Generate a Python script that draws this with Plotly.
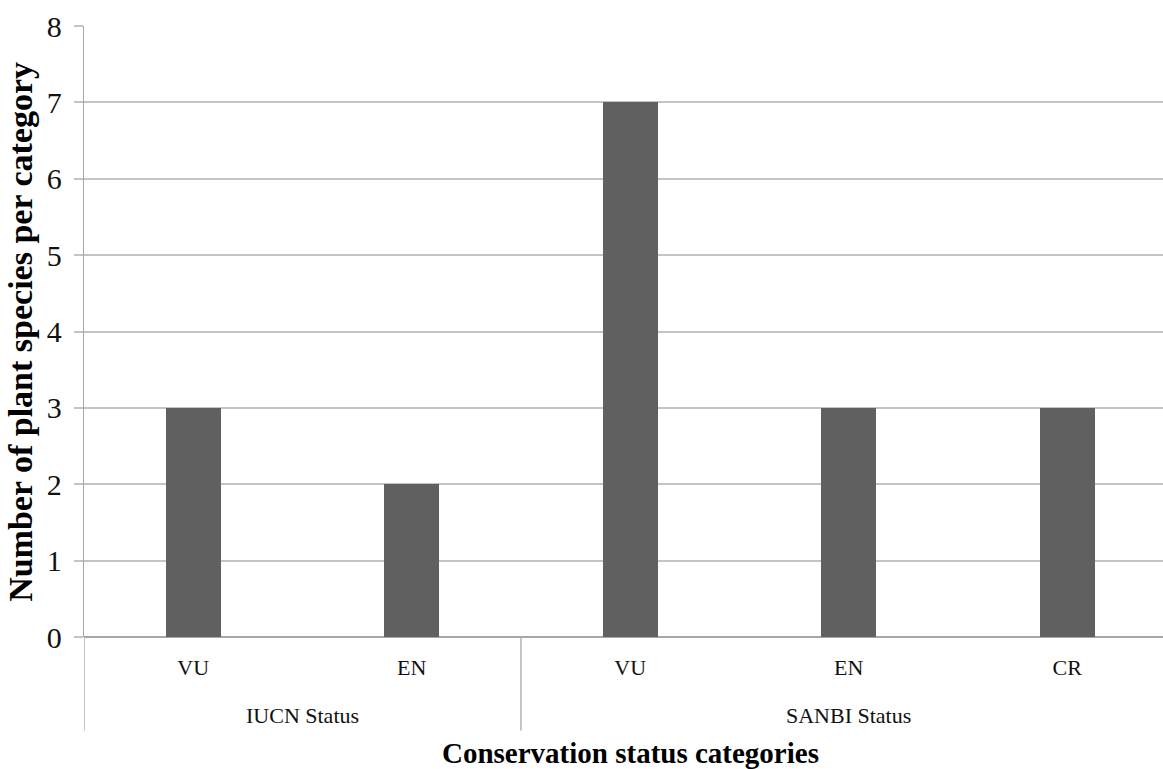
import plotly.graph_objects as go

# Threatened plant species counted per conservation-status category
groups = ["IUCN Status", "IUCN Status", "SANBI Status", "SANBI Status", "SANBI Status"]
statuses = ["VU", "EN", "VU", "EN", "CR"]
counts = [3, 2, 7, 3, 3]

y_ticks = [0, 1, 2, 3, 4, 5, 6, 7, 8]

FONT = "Liberation Serif, Times New Roman, serif"
BAR = "#606060"
AXIS = "#a6a6a6"
GRID = "#c4c4c4"

positions = list(range(len(statuses)))

fig = go.Figure()
fig.add_trace(go.Bar(
    x=positions,
    y=counts,
    width=0.25,
    marker=dict(color=BAR, line=dict(width=0)),
    hoverinfo="skip",
))

# group labels and group divider lines below the category labels
group_names = []
for g in groups:
    if g not in group_names:
        group_names.append(g)

shapes = []
annotations = []
for name in group_names:
    idx = [i for i, g in enumerate(groups) if g == name]
    left = min(idx) - 0.5
    annotations.append(dict(
        x=(min(idx) + max(idx)) / 2, xref="x",
        y=-0.128, yref="paper",
        text=name, showarrow=False,
        font=dict(family=FONT, size=22, color="#111111"),
        xanchor="center", yanchor="middle",
    ))
    shapes.append(dict(
        type="line", xref="x", yref="paper",
        x0=left, x1=left, y0=0, y1=-0.153,
        line=dict(color=AXIS, width=1.3),
    ))

# axis titles
annotations.append(dict(
    x=(len(statuses) - 1) / 2, xref="x",
    y=-0.19, yref="paper",
    text="<b>Conservation status categories</b>", showarrow=False,
    font=dict(family=FONT, size=29, color="#000000"),
    xanchor="center", yanchor="middle",
))
annotations.append(dict(
    x=-0.059, xref="paper",
    y=0.5, yref="paper",
    text="<b>Number of plant species per category</b>", showarrow=False,
    textangle=-90,
    font=dict(family=FONT, size=34, color="#000000"),
    xanchor="center", yanchor="middle",
))

fig.update_layout(
    width=1163, height=769,
    margin=dict(l=84, r=0, t=26, b=132),
    paper_bgcolor="white", plot_bgcolor="white",
    showlegend=False,
    bargap=0,
    shapes=shapes,
    annotations=annotations,
    xaxis=dict(
        range=[-0.5, -0.5 + 1079 / 218.5],
        tickmode="array", tickvals=positions, ticktext=statuses,
        ticks="", showgrid=False, zeroline=False,
        showline=False,
        tickfont=dict(family=FONT, size=22, color="#111111"),
        ticklabelstandoff=15,
    ),
    yaxis=dict(
        range=[0, 8],
        tickmode="array", tickvals=y_ticks,
        showgrid=True, gridcolor=GRID, gridwidth=1.5,
        zeroline=True, zerolinecolor=AXIS, zerolinewidth=1.5,
        showline=True, linecolor=AXIS, linewidth=1.3,
        ticks="outside", ticklen=9, tickcolor=GRID, tickwidth=1.5,
        tickfont=dict(family=FONT, size=30, color="#111111"),
        ticklabelstandoff=6,
    ),
)

fig.write_html("out.html")
